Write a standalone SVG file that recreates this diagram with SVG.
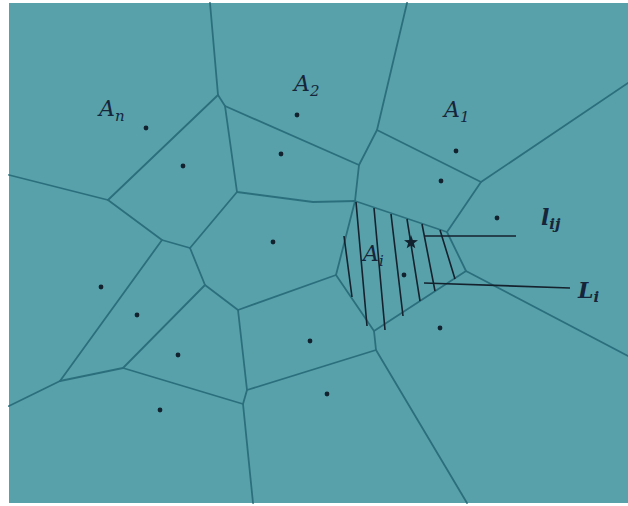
<svg xmlns="http://www.w3.org/2000/svg" width="628" height="506" viewBox="0 0 628 506">
<style>
.edge{stroke:#2b6f7d;stroke-width:1.8;fill:none;stroke-linecap:round;stroke-linejoin:round}
.hatch{stroke:#14222e;stroke-width:1.6;fill:none}
.lead{stroke:#14222e;stroke-width:1.7;fill:none}
.dot{fill:#13222f}
.lbl{font-family:"DejaVu Serif","Liberation Serif",serif;font-style:italic;font-size:22px;fill:#15253a}
.sub{font-size:15px}
.bold{font-weight:bold}
</style>
<rect x="0" y="0" width="628" height="506" fill="#ffffff"/>
<rect id="background" x="9" y="3" width="619" height="500" fill="#58a1aa"/>
<g id="connectors">
<path class="edge" d="M210,3 L218,95 L225,106 L359,165"/>
<path class="edge" d="M218,95 L108,200 L9,175"/>
<path class="edge" d="M225,106 L237,192 L313,202 L355,201"/>
<path class="edge" d="M237,192 L190,248"/>
<path class="edge" d="M108,200 L162,240 L190,248"/>
<path class="edge" d="M162,240 L60,381 L9,406"/>
<path class="edge" d="M60,381 L123,368 L205,285 L190,248"/>
<path class="edge" d="M205,285 L238,310 L336,275"/>
<path class="edge" d="M238,310 L247,390 L376,350"/>
<path class="edge" d="M247,390 L243,404 L253,503"/>
<path class="edge" d="M123,368 L243,404"/>
<path class="edge" d="M336,275 L374,331 L376,350 L467,503"/>
<path class="edge" d="M336,275 L355,201"/>
<path class="edge" d="M374,331 L466,271 L628,356"/>
<path class="edge" d="M466,271 L447,232 L481,182 L628,83"/>
<path class="edge" d="M355,201 L447,232"/>
<path class="edge" d="M481,182 L377,130 L407,3"/>
<path class="edge" d="M377,130 L359,165 L355,201"/>
</g>
<g id="hatching">
<path class="hatch" d="M344,236 L352,297 M356,202 L367,326 M374,208 L385,330 M391,214 L403,316 M407,219 L420,301 M422,224 L435,291 M440,230 L455,279"/>
</g>
<g id="dots">
<circle class="dot" cx="146" cy="128" r="2.4"/>
<circle class="dot" cx="183" cy="166" r="2.4"/>
<circle class="dot" cx="297" cy="115" r="2.4"/>
<circle class="dot" cx="281" cy="154" r="2.4"/>
<circle class="dot" cx="456" cy="151" r="2.4"/>
<circle class="dot" cx="441" cy="181" r="2.4"/>
<circle class="dot" cx="497" cy="218" r="2.4"/>
<circle class="dot" cx="273" cy="242" r="2.4"/>
<circle class="dot" cx="101" cy="287" r="2.4"/>
<circle class="dot" cx="137" cy="315" r="2.4"/>
<circle class="dot" cx="178" cy="355" r="2.4"/>
<circle class="dot" cx="160" cy="410" r="2.4"/>
<circle class="dot" cx="310" cy="341" r="2.4"/>
<circle class="dot" cx="327" cy="394" r="2.4"/>
<circle class="dot" cx="440" cy="328" r="2.4"/>
<circle class="dot" cx="404" cy="275" r="2.4"/>
</g>
<g id="star">
<polygon class="dot" points="411,235 412.8,240 418,240.2 413.9,243.3 415.3,248.3 411,245.4 406.7,248.3 408.1,243.3 404,240.2 409.2,240"/>
</g>
<g id="leaders">
<path class="lead" d="M424,236 L516,236"/>
<path class="lead" d="M424,283 L570,288"/>
</g>
<g id="label-An"><text class="lbl" x="99" y="116">A<tspan class="sub" dy="5">n</tspan></text></g>
<g id="label-A2"><text class="lbl" x="294" y="91">A<tspan class="sub" dy="5">2</tspan></text></g>
<g id="label-A1"><text class="lbl" x="444" y="117">A<tspan class="sub" dy="5">1</tspan></text></g>
<g id="label-Ai"><text class="lbl" x="363" y="261">A<tspan class="sub" dy="5">i</tspan></text></g>
<g id="label-lij"><text class="lbl bold" x="541" y="225">l<tspan class="sub" dy="4">ij</tspan></text></g>
<g id="label-Li"><text class="lbl bold" x="578" y="298">L<tspan class="sub" dy="4">i</tspan></text></g>
</svg>
